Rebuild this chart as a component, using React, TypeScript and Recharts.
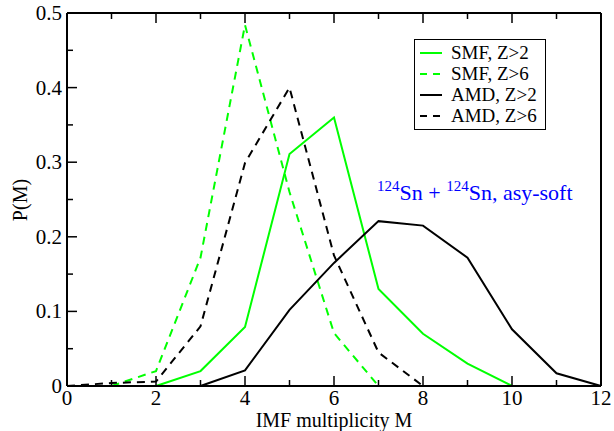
import React from 'react';
import { LineChart, Line, XAxis, YAxis, Legend } from 'recharts';

// IMF multiplicity distributions
const multiplicity = [0, 1, 2, 3, 4, 5, 6, 7, 8, 9, 10, 11, 12];
const smfZ2 = [null, null, 0, 0.02, 0.079, 0.311, 0.36, 0.13, 0.07, 0.03, 0, null, null];
const smfZ6 = [null, 0, 0.02, 0.172, 0.484, 0.26, 0.071, 0, null, null, null, null, null];
const amdZ2 = [null, null, null, 0, 0.021, 0.102, 0.165, 0.221, 0.215, 0.172, 0.076, 0.017, 0];
const amdZ6 = [0, 0.004, 0.006, 0.08, 0.299, 0.4, 0.175, 0.045, 0, null, null, null, null];

const xTicks = [0, 1, 2, 3, 4, 5, 6, 7, 8, 9, 10, 11, 12];
const yTicks = [0, 0.05, 0.1, 0.15, 0.2, 0.25, 0.3, 0.35, 0.4, 0.45, 0.5];

const series = [
  { key: 'smfZ2', name: 'SMF, Z>2', color: '#00ff00', dash: undefined },
  { key: 'smfZ6', name: 'SMF, Z>6', color: '#00ff00', dash: '8 6' },
  { key: 'amdZ2', name: 'AMD, Z>2', color: '#000000', dash: undefined },
  { key: 'amdZ6', name: 'AMD, Z>6', color: '#000000', dash: '8 6' },
];

const data = multiplicity.map((m, i) => ({
  m,
  smfZ2: smfZ2[i],
  smfZ6: smfZ6[i],
  amdZ2: amdZ2[i],
  amdZ6: amdZ6[i],
}));

const FONT =
  '"Liberation Serif", "Nimbus Roman", "Nimbus Roman No9 L", FreeSerif, "Noto Serif", "DejaVu Serif", Times, serif';

const isMajorX = (v: number) => v % 2 === 0;
const isMajorY = (v: number) => Math.abs(v * 10 - Math.round(v * 10)) < 1e-6;

const renderTick = (side: 'bottom' | 'top' | 'left' | 'right') => (props: any) => {
  const { x, y, payload } = props;
  const v = payload.value;
  const major = side === 'bottom' || side === 'top' ? isMajorX(v) : isMajorY(v);
  const len = major ? 10 : 6;
  let line;
  if (side === 'bottom') line = <line x1={x} x2={x} y1={y} y2={y - len} stroke="#000" strokeWidth={1.5} />;
  if (side === 'top') line = <line x1={x} x2={x} y1={y} y2={y + len} stroke="#000" strokeWidth={1.5} />;
  if (side === 'left') line = <line x1={x} x2={x + len} y1={y} y2={y} stroke="#000" strokeWidth={1.5} />;
  if (side === 'right') line = <line x1={x} x2={x - len} y1={y} y2={y} stroke="#000" strokeWidth={1.5} />;
  let label = null;
  if (major && side === 'bottom') {
    label = (
      <text x={x} y={y + 19} textAnchor="middle" style={{ fontFamily: FONT }} fontSize={21} fill="#000">
        {v}
      </text>
    );
  }
  if (major && side === 'left') {
    label = (
      <text x={x - 5} y={y + 7} textAnchor="end" style={{ fontFamily: FONT }} fontSize={21} fill="#000">
        {v === 0 ? '0' : v.toFixed(1)}
      </text>
    );
  }
  return (
    <g>
      {line}
      {label}
    </g>
  );
};

const LegendBox = () => (
  <div
    style={{
      width: 132,
      height: 91,
      boxSizing: 'border-box',
      border: '1.5px solid #000',
      background: '#fff',
      paddingTop: 2,
      fontFamily: FONT,
      fontSize: 19,
      color: '#000',
    }}
  >
    {series.map((s) => (
      <div key={s.key} style={{ display: 'flex', alignItems: 'center', height: 21, lineHeight: '21px' }}>
        <svg width={36} height={21} style={{ flexShrink: 0 }}>
          <line x1={5} x2={27} y1={11} y2={11} stroke={s.color} strokeWidth={2} strokeDasharray={s.dash ? '7 6' : undefined} />
        </svg>
        <span style={{ whiteSpace: 'nowrap' }}>{s.name}</span>
      </div>
    ))}
  </div>
);

const Annotation = () => (
  <text x={377} y={200} style={{ fontFamily: FONT }} fontSize={22} fill="#0000ff">
    <tspan fontSize={15} dy={-9}>124</tspan>
    <tspan fontSize={22} dy={9}>Sn + </tspan>
    <tspan fontSize={15} dy={-9}>124</tspan>
    <tspan fontSize={22} dy={9}>Sn, asy-soft</tspan>
  </text>
);

const YTitle = () => (
  <text
    x={27}
    y={200}
    transform="rotate(-90 27 200)"
    textAnchor="middle"
    style={{ fontFamily: FONT }}
    fontSize={20}
    fill="#000"
  >
    P(M)
  </text>
);

const XTitle = () => (
  <text x={334} y={427} textAnchor="middle" style={{ fontFamily: FONT }} fontSize={20} fill="#000">
    IMF multiplicity M
  </text>
);

const axisStroke = { stroke: '#000', strokeWidth: 2 };

export default function App() {
  return (
    <div style={{ position: 'absolute', left: 0, top: 0, width: 614, height: 431, background: '#fff' }}>
      <LineChart width={614} height={431} data={data} margin={{ top: 12, right: 12, bottom: 44, left: 66 }}>
        <XAxis
          xAxisId="bottom"
          dataKey="m"
          type="number"
          domain={[0, 12]}
          ticks={xTicks}
          interval={0}
          height={1}
          tickSize={0}
          tickMargin={0}
          tickLine={false}
          tick={renderTick('bottom')}
          axisLine={axisStroke}
          label={{ content: () => <XTitle /> }}
        />
        <XAxis
          xAxisId="top"
          orientation="top"
          dataKey="m"
          type="number"
          domain={[0, 12]}
          ticks={xTicks}
          interval={0}
          height={1}
          tickSize={0}
          tickMargin={0}
          tickLine={false}
          tick={renderTick('top')}
          axisLine={axisStroke}
          label={{ content: () => <Annotation /> }}
        />
        <YAxis
          yAxisId="left"
          type="number"
          domain={[0, 0.5]}
          ticks={yTicks}
          interval={0}
          width={1}
          tickSize={0}
          tickMargin={0}
          tickLine={false}
          tick={renderTick('left')}
          axisLine={axisStroke}
          label={{ content: () => <YTitle /> }}
        />
        <YAxis
          yAxisId="right"
          orientation="right"
          type="number"
          domain={[0, 0.5]}
          ticks={yTicks}
          interval={0}
          width={1}
          tickSize={0}
          tickMargin={0}
          tickLine={false}
          tick={renderTick('right')}
          axisLine={axisStroke}
        />
        <Legend
          layout="horizontal"
          verticalAlign="middle"
          align="center"
          content={<LegendBox />}
          wrapperStyle={{ left: 414, top: 39, width: 132, height: 91 }}
        />
        {series.map((s) => (
          <Line
            key={s.key}
            xAxisId="bottom"
            yAxisId="left"
            type="linear"
            dataKey={s.key}
            name={s.name}
            stroke={s.color}
            strokeWidth={2}
            strokeDasharray={s.dash}
            dot={false}
            activeDot={false}
            legendType="line"
            isAnimationActive={false}
          />
        ))}
      </LineChart>
    </div>
  );
}
